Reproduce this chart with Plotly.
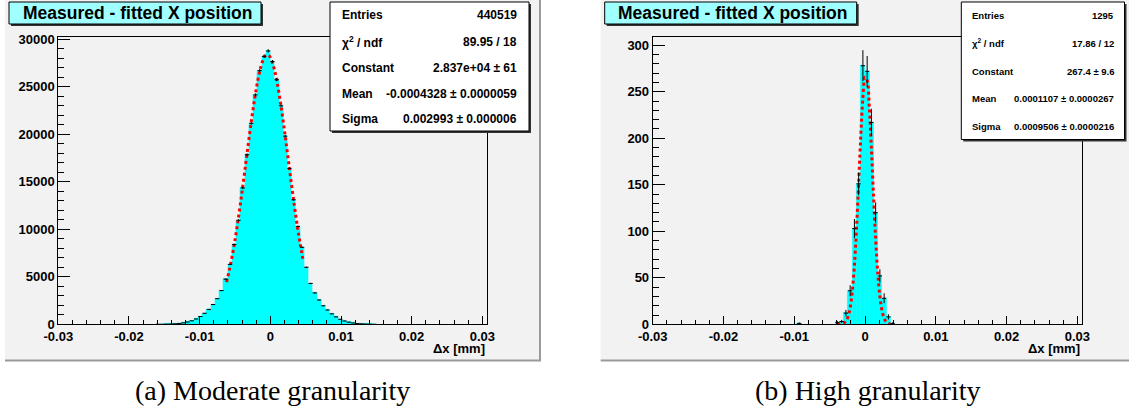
import math
import plotly.graph_objects as go

W, H = 1129, 407

# ---------------- data ----------------
bin_width = 0.0006

left_centers = [-0.0159, -0.0153, -0.0147, -0.0141, -0.0135, -0.0129, -0.0123, -0.0117,
                -0.0111, -0.0105, -0.0099, -0.0093, -0.0087, -0.0081, -0.0075, -0.0069,
                -0.0063, -0.0057, -0.0051, -0.0045, -0.0039, -0.0033, -0.0027, -0.0021,
                -0.0015, -0.0009, -0.0003, 0.0003, 0.0009, 0.0015, 0.0021, 0.0027,
                0.0033, 0.0039, 0.0045, 0.0051, 0.0057, 0.0063, 0.0069, 0.0075,
                0.0081, 0.0087, 0.0093, 0.0099, 0.0105, 0.0111, 0.0117, 0.0123,
                0.0129, 0.0135, 0.0141, 0.0147]
left_counts = [3, 7, 14, 28, 50, 90, 150, 240,
               370, 560, 820, 1160, 1570, 2080, 2700, 3550,
               4750, 6300, 8400, 10950, 14350, 17850, 21150, 24150,
               26700, 28200, 28770, 27650, 25750, 23000, 19800, 16400,
               13100, 10300, 8100, 6000, 4300, 3300, 2550, 1950,
               1500, 1100, 780, 530, 350, 225, 140, 85,
               48, 26, 12, 5]

left_fit_x = [-0.0062, -0.0058, -0.0054, -0.0050, -0.0046, -0.0042, -0.0038, -0.0034,
              -0.0030, -0.0026, -0.0022, -0.0018, -0.0014, -0.0010, -0.0006, -0.0002,
              0.0002, 0.0006, 0.0010, 0.0014, 0.0018, 0.0022, 0.0026, 0.0030,
              0.0034, 0.0038, 0.0042, 0.0046]
left_fit_y = [4429, 5683, 7161, 8857, 10767, 12851, 15067, 17357,
              19638, 21828, 23831, 25562, 26926, 27866, 28326, 28284,
              27743, 26730, 25298, 23518, 21479, 19266, 16977, 14696,
              12494, 10435, 8563, 6899]

right_centers = [-0.0093, -0.0039, -0.0033, -0.0027, -0.0021, -0.0015, -0.0009, -0.0003,
                 0.0003, 0.0009, 0.0015, 0.0021, 0.0027, 0.0033, 0.0039]
right_counts = [1, 2, 3, 12, 36, 103, 151, 278,
                272, 217, 120, 52, 28, 8, 1]

right_fit_x = [-0.0039, -0.0036, -0.0033, -0.0030, -0.0027, -0.0024, -0.0021, -0.0018,
               -0.0015, -0.0012, -0.0009, -0.0006, -0.0003, 0.0, 0.0003, 0.0006,
               0.0009, 0.0012, 0.0015, 0.0018, 0.0021, 0.0024, 0.0027, 0.0030,
               0.0033, 0.0036]
right_fit_y = [0.04, 0.13, 0.42, 1.25, 3.35, 8.2, 17.8, 35.5,
               63.4, 103.2, 151.8, 202.1, 243.5, 265.6, 262.2, 234.2,
               189.3, 138.6, 91.8, 55.0, 29.9, 14.7, 6.5, 2.6,
               0.95, 0.31]

x_tick_vals = [-0.03, -0.02, -0.01, 0.0, 0.01, 0.02, 0.03]
x_tick_text = ["-0.03", "-0.02", "-0.01", "0", "0.01", "0.02", "0.03"]
left_y_ticks = [0, 5000, 10000, 15000, 20000, 25000, 30000]
right_y_ticks = [0, 50, 100, 150, 200, 250, 300]

title_text = "Measured - fitted X position"
x_title = "Δx [mm]"
left_stats = [("Entries", "440519"), ("χ<sup>2</sup> / ndf", "89.95 / 18"),
              ("Constant", "2.837e+04 ± 61"), ("Mean", "-0.0004328 ± 0.0000059"),
              ("Sigma", "0.002993 ± 0.000006")]
right_stats = [("Entries", "1295"), ("χ<sup>2</sup> / ndf", "17.86 / 12"),
               ("Constant", "267.4 ± 9.6"), ("Mean", "0.0001107 ± 0.0000267"),
               ("Sigma", "0.0009506 ± 0.0000216")]
captions = ["(a) Moderate granularity", "(b) High granularity"]

# ---------------- helpers ----------------
def X(px):
    return px / W

def Y(py):
    return 1 - py / H

CANVAS = "#f2f2f2"
SANS = "Liberation Sans"

fig = go.Figure()

panels = [
    dict(xa="x", ya="y", centers=left_centers, counts=left_counts,
         fx=left_fit_x, fy=left_fit_y, ymax=30270, yt=left_y_ticks, minor=1000,
         frame=(58.3, 487.3), canvas=(5, 540), stats=left_stats,
         sbox=(330, 529, 2, 131), srows=[15.5, 41.7, 68.0, 93.5, 119.2],
         slab=340, sval=518.5, sfont=12, cap=captions[0], capx=272.5),
    dict(xa="x2", ya="y2", centers=right_centers, counts=right_counts,
         fx=right_fit_x, fy=right_fit_y, ymax=309.2, yt=right_y_ticks, minor=10,
         frame=(652.7, 1082.3), canvas=(600.7, 1140), stats=right_stats,
         sbox=(961.3, 1124.5, 2, 139.5), srows=[15.5, 43.3, 71.0, 98.5, 126.0],
         slab=969.7, sval=1115.7, sfont=9.5, cap=captions[1], capx=868),
]

shapes = []
annotations = []
for i, p in enumerate(panels):
    # histogram
    fig.add_trace(go.Bar(x=p["centers"], y=p["counts"], width=[bin_width] * len(p["centers"]),
                         marker=dict(color="#00ffff", line=dict(width=0.6, color="#00ffff")),
                         xaxis=p["xa"], yaxis=p["ya"], showlegend=False))
    # fit
    fig.add_trace(go.Scatter(x=p["fx"], y=p["fy"], mode="lines", line_shape="spline",
                             line=dict(color="#ff0000", width=3, dash="dot"),
                             xaxis=p["xa"], yaxis=p["ya"], showlegend=False))
    # error bars
    errs = [math.sqrt(c) for c in p["counts"]]
    fig.add_trace(go.Scatter(x=p["centers"], y=p["counts"], mode="markers",
                             marker=dict(size=1, color="black", opacity=0),
                             error_y=dict(type="data", array=errs, color="black", thickness=1, width=0),
                             error_x=dict(type="constant", value=bin_width / 2, color="black", thickness=1, width=0),
                             xaxis=p["xa"], yaxis=p["ya"], showlegend=False))

    cx0, cx1 = p["canvas"]
    # canvas
    shapes.append(dict(type="rect", xref="paper", yref="paper", x0=X(cx0), x1=X(cx1), y0=Y(360), y1=Y(0),
                       fillcolor=CANVAS, line=dict(width=0), layer="below"))
    shapes.append(dict(type="line", xref="paper", yref="paper", x0=X(cx0), x1=X(cx1 + 1), y0=Y(360.5), y1=Y(360.5),
                       line=dict(color="#9a9a9a", width=2), layer="below"))
    shapes.append(dict(type="line", xref="paper", yref="paper", x0=X(cx1), x1=X(cx1), y0=Y(0), y1=Y(361),
                       line=dict(color="#9a9a9a", width=2), layer="below"))

    # title box
    tx0 = cx0 + 4
    tx1 = tx0 + 252
    shapes.append(dict(type="rect", xref="paper", yref="paper", x0=X(tx0 + 2), x1=X(tx1 + 2), y0=Y(26), y1=Y(4),
                       fillcolor="#333333", line=dict(width=0), layer="above"))
    shapes.append(dict(type="rect", xref="paper", yref="paper", x0=X(tx0), x1=X(tx1), y0=Y(24), y1=Y(2),
                       fillcolor="#a0ffff", line=dict(color="black", width=1), layer="above"))
    annotations.append(dict(text=title_text, xref="paper", yref="paper", x=X(tx0 + 11.5), y=Y(13.3),
                            xanchor="left", yanchor="middle", showarrow=False,
                            font=dict(family=SANS, size=17.5, color="black", weight="bold")))

    # stats box
    sx0, sx1, sy0, sy1 = p["sbox"]
    shapes.append(dict(type="rect", xref="paper", yref="paper", x0=X(sx0 + 2), x1=X(sx1 + 2), y0=Y(sy1 + 2), y1=Y(sy0 + 2),
                       fillcolor="#333333", line=dict(width=0), layer="above"))
    shapes.append(dict(type="rect", xref="paper", yref="paper", x0=X(sx0), x1=X(sx1), y0=Y(sy1), y1=Y(sy0),
                       fillcolor="white", line=dict(color="black", width=1), layer="above"))
    for (lab, val), ry in zip(p["stats"], p["srows"]):
        annotations.append(dict(text=lab, xref="paper", yref="paper", x=X(p["slab"]), y=Y(ry),
                                xanchor="left", yanchor="middle", showarrow=False,
                                font=dict(family=SANS, size=p["sfont"], color="black", weight="bold")))
        annotations.append(dict(text=val, xref="paper", yref="paper", x=X(p["sval"]), y=Y(ry),
                                xanchor="right", yanchor="middle", showarrow=False,
                                font=dict(family=SANS, size=p["sfont"], color="black", weight="bold")))

    # x-axis title
    fx0, fx1 = p["frame"]
    annotations.append(dict(text=x_title, xref="paper", yref="paper", x=X(fx1), y=Y(348.3),
                            xanchor="right", yanchor="middle", showarrow=False,
                            font=dict(family=SANS, size=13, color="black", weight="bold")))
    # caption
    annotations.append(dict(text=p["cap"], xref="paper", yref="paper", x=X(p["capx"]), y=Y(390.5),
                            xanchor="center", yanchor="middle", showarrow=False,
                            font=dict(family="Liberation Serif", size=28, color="black")))

    axis_x = dict(domain=[X(fx0), X(fx1)], range=[-0.03, 0.0307], showgrid=False, zeroline=False,
                  showline=True, linecolor="black", linewidth=1, mirror=True,
                  ticks="inside", ticklen=8, tickcolor="black", tickwidth=1,
                  tickvals=x_tick_vals, ticktext=x_tick_text,
                  minor=dict(dtick=0.002, tick0=-0.03, ticks="inside", ticklen=4, tickcolor="black", tickwidth=1),
                  tickfont=dict(family=SANS, size=13, color="black", weight="bold"),
                  anchor=p["ya"], automargin=False)
    axis_y = dict(domain=[Y(324.3), Y(36.7)], range=[0, p["ymax"]], showgrid=False, zeroline=False,
                  showline=True, linecolor="black", linewidth=1, mirror=True,
                  ticks="inside", ticklen=12, tickcolor="black", tickwidth=1,
                  tickvals=p["yt"], ticktext=[str(v) for v in p["yt"]],
                  minor=dict(dtick=p["minor"], tick0=0, ticks="inside", ticklen=6, tickcolor="black", tickwidth=1),
                  tickfont=dict(family=SANS, size=13, color="black", weight="bold"),
                  anchor=p["xa"], automargin=False)
    suffix = "" if i == 0 else "2"
    fig.update_layout(**{"xaxis" + suffix: axis_x, "yaxis" + suffix: axis_y})

fig.update_layout(width=W, height=H, margin=dict(l=0, r=0, t=0, b=0, autoexpand=False),
                  paper_bgcolor="white", plot_bgcolor=CANVAS,
                  bargap=0, barmode="overlay", showlegend=False,
                  shapes=shapes, annotations=annotations)

fig.write_html("out.html", config={"displayModeBar": False},
               post_script="document.body.style.margin='0';document.body.style.overflow='hidden';")
